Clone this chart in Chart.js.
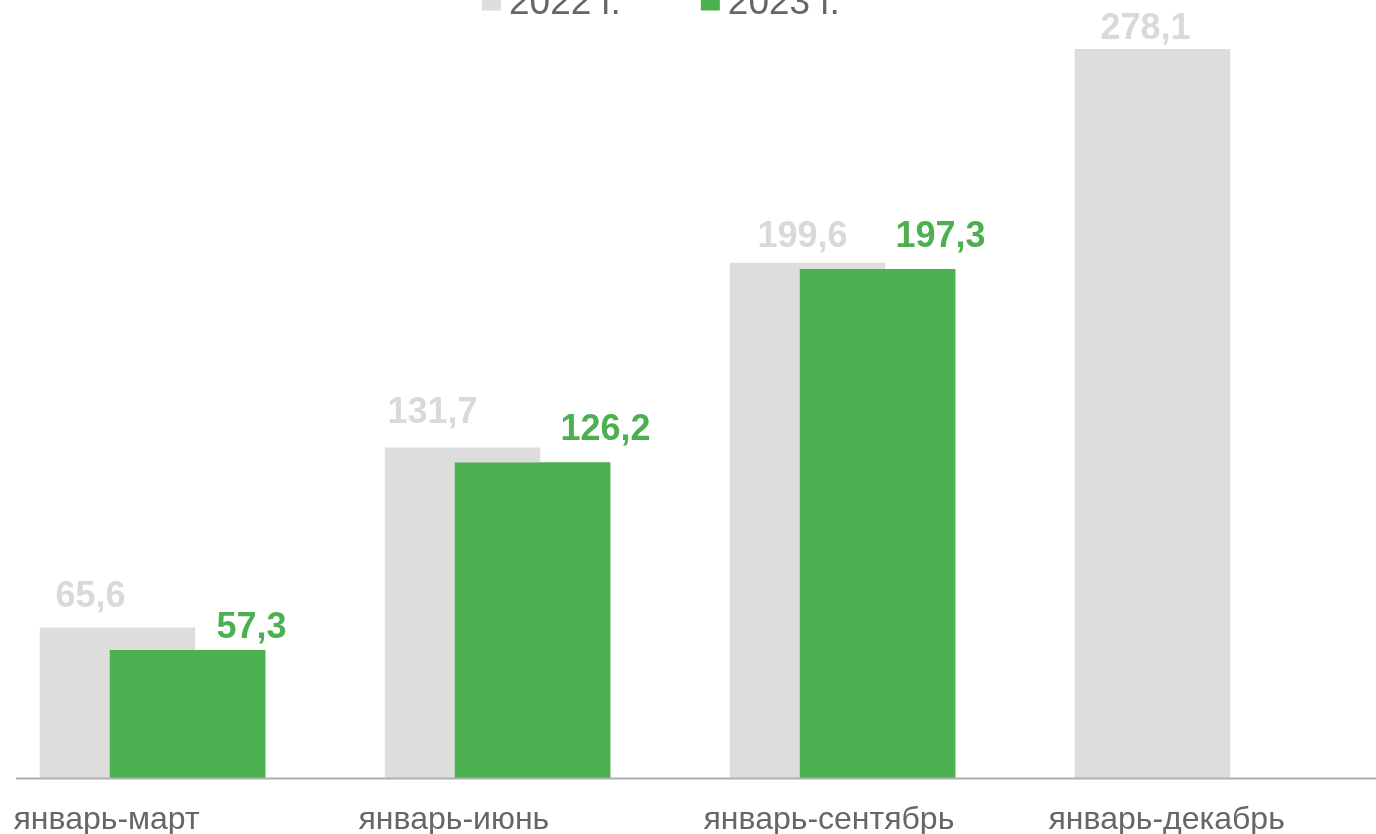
<!DOCTYPE html>
<html>
<head>
<meta charset="utf-8">
<script src="https://cdn.jsdelivr.net/npm/chart.js@4.4.1/dist/chart.umd.min.js"></script>
<style>
  html, body { margin: 0; padding: 0; overflow: hidden; background: #ffffff; }
  body { width: 1376px; height: 834px; position: relative; }
  #c { position: absolute; left: -40px; top: 0; width: 1440px; height: 834px; }
</style>
</head>
<body>
<canvas id="c" width="1440" height="834"></canvas>
<script>
// ---- data ----
const categories = ['январь-март', 'январь-июнь', 'январь-сентябрь', 'январь-декабрь'];
const seriesNames = ['2022 г.', '2023 г.'];
const values2022 = [65.6, 131.7, 199.6, 278.1];
const values2023 = [57.3, 126.2, 197.3, null];

// ---- style / layout ----
const GRAY = '#dddddd';
const GREEN = '#4caf50';
const GRAY_LABEL = '#d9d9d9';
const TEXT = '#666666';
const FONT = '"Liberation Sans", Arial, sans-serif';
// value label nudges (x from bar centre, gap above bar top)
const labelDx = [[-27, -30, -5, -7], [64, 73, 63, 0]];
const labelGap = [[20.5, 25, 16, 10], [12, 22.5, 22, 0]];

const fmt = v => v.toFixed(1).replace('.', ',');

const overlayPlugin = {
  id: 'overlay',
  afterDatasetsDraw(chart) {
    const ctx = chart.ctx;
    const area = chart.chartArea;
    // redraw 2023 bars on top of 2022
    ctx.save();
    ctx.beginPath();
    ctx.rect(area.left, area.top, area.right - area.left, area.bottom - area.top);
    ctx.clip();
    chart.getDatasetMeta(1).data.forEach(el => { if (!el.skip) el.draw(ctx); });
    ctx.restore();
    // baseline
    ctx.save();
    ctx.strokeStyle = '#afafaf';
    ctx.lineWidth = 2;
    ctx.beginPath();
    ctx.moveTo(56, area.bottom + 0.5);
    ctx.lineTo(chart.width, area.bottom + 0.5);
    ctx.stroke();
    ctx.restore();
  },
  afterDraw(chart) {
    const ctx = chart.ctx;
    // value labels
    ctx.save();
    ctx.font = 'bold 36px ' + FONT;
    ctx.textAlign = 'center';
    ctx.textBaseline = 'alphabetic';
    chart.data.datasets.forEach((ds, di) => {
      const meta = chart.getDatasetMeta(di);
      meta.data.forEach((el, i) => {
        const v = ds.data[i];
        if (v === null || v === undefined) return;
        ctx.fillStyle = di === 0 ? GRAY_LABEL : GREEN;
        ctx.fillText(fmt(v), el.x + labelDx[di][i], el.y - labelGap[di][i]);
      });
    });
    ctx.restore();
    // legend (partly cut by top edge, as in the reference)
    ctx.save();
    ctx.font = '37px ' + FONT;
    ctx.textBaseline = 'alphabetic';
    ctx.textAlign = 'left';
    let x = 522;
    chart.data.datasets.forEach((ds, di) => {
      ctx.fillStyle = ds.backgroundColor;
      ctx.fillRect(x, -8.5, 19, 19);
      ctx.fillStyle = TEXT;
      const tx = x + 27;
      ctx.fillText(ds.label, tx, 14);
      x = tx + ctx.measureText(ds.label).width + 80;
    });
    ctx.restore();
  }
};

new Chart(document.getElementById('c'), {
  type: 'bar',
  data: {
    labels: categories,
    datasets: [
      { label: seriesNames[0], data: values2022, backgroundColor: GRAY, clip: 0,
        categoryPercentage: 140 / 345, barPercentage: 155.5 / 70 },
      { label: seriesNames[1], data: values2023, backgroundColor: GREEN, clip: 0,
        categoryPercentage: 140 / 345, barPercentage: 155.5 / 70 }
    ]
  },
  options: {
    responsive: false,
    maintainAspectRatio: false,
    devicePixelRatio: 1,
    animation: false,
    events: [],
    layout: { padding: { left: 20, right: 40, top: 0, bottom: 0 } },
    plugins: { legend: { display: false }, tooltip: { enabled: false } },
    scales: {
      x: {
        offset: true,
        grid: { display: false, drawTicks: false },
        border: { display: false },
        ticks: {
          align: 'start',
          labelOffset: -139,
          padding: 23,
          color: TEXT,
          font: { family: FONT, size: 32 },
          maxRotation: 0,
          autoSkip: false
        },
        afterFit: s => { s.height = 56; s.paddingLeft = 0; s.paddingRight = 0; }
      },
      y: {
        display: false,
        min: 10.3,
        max: 296.1
      }
    }
  },
  plugins: [overlayPlugin]
});
</script>
</body>
</html>
